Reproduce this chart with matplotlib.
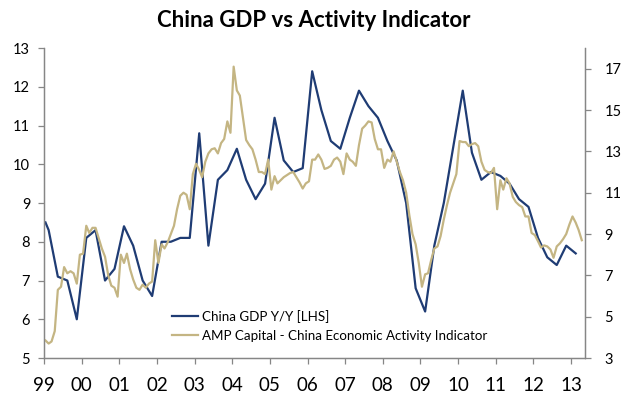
import numpy as np
import pandas as pd
import matplotlib
matplotlib.use("Agg")
import matplotlib.pyplot as plt
import matplotlib.dates as mdates

# China GDP y/y (left axis), quarterly readings
gdp_dates = ["1999-01-15"] + [f"{y}-{m:02d}-15" for y in range(1999, 2013) for m in (2, 5, 8, 11)] + ["2013-02-15"]
gdp_values = [8.5,
              8.3, 7.1, 7.0, 6.0,
              8.1, 8.3, 7.0, 7.3,
              8.4, 7.9, 7.0, 6.6,
              8.0, 8.0, 8.1, 8.1,
              10.8, 7.9, 9.6, 9.85,
              10.4, 9.6, 9.1, 9.5,
              11.2, 10.1, 9.8, 9.9,
              12.4, 11.4, 10.6, 10.4,
              11.2, 11.9, 11.5, 11.2,
              10.6, 10.1, 9.0, 6.8,
              6.2, 7.9, 9.0, 10.45,
              11.9, 10.3, 9.6, 9.8,
              9.7, 9.5, 9.1, 8.9,
              8.1, 7.6, 7.4, 7.9,
              7.7]

# AMP Capital activity indicator (right axis), monthly from Jan 1999
amp_values = [
    3.85, 3.7, 3.8, 4.3, 6.3, 6.45, 7.4, 7.1, 7.2, 7.1, 6.6, 8.0,        # 1999
    8.05, 9.4, 9.05, 9.3, 9.3, 8.8, 8.3, 7.9, 7.0, 6.5, 6.4, 5.97,       # 2000
    8.0, 7.6, 8.05, 7.3, 6.8, 6.4, 6.3, 6.55, 6.4, 6.6, 6.7, 8.7,        # 2001
    7.6, 8.5, 8.3, 8.6, 9.0, 9.4, 10.2, 10.85, 11.0, 10.9, 10.2, 11.9,   # 2002
    12.4, 12.1, 11.75, 12.5, 12.9, 13.1, 13.15, 12.9, 13.4, 13.6, 14.45, 13.9,  # 2003
    17.1, 15.95, 15.7, 14.6, 13.55, 13.3, 13.1, 12.6, 12.0, 12.0, 11.9, 12.6,  # 2004
    11.15, 11.8, 11.45, 11.6, 11.75, 11.85, 11.95, 12.0, 11.75, 11.5, 11.2, 11.45,  # 2005
    11.55, 12.6, 12.6, 12.85, 12.6, 12.15, 12.2, 12.3, 12.6, 12.7, 12.5, 11.9,  # 2006
    12.9, 12.6, 12.5, 12.3, 13.3, 14.1, 14.25, 14.45, 14.4, 13.6, 13.1, 13.1,  # 2007
    12.2, 12.6, 12.5, 13.0, 12.5, 12.0, 11.6, 11.0, 9.9, 9.0, 8.5, 7.6,  # 2008
    6.45, 7.05, 7.1, 7.75, 8.3, 8.4, 8.9, 9.7, 10.4, 11.0, 11.45, 11.9,  # 2009
    13.5, 13.45, 13.45, 13.25, 13.35, 13.4, 13.25, 12.5, 12.1, 12.0, 11.95, 12.2,  # 2010
    10.2, 11.6, 11.15, 11.7, 11.45, 10.8, 10.55, 10.4, 10.3, 9.85, 9.85, 9.05,  # 2011
    8.95, 8.65, 8.35, 8.45, 8.4, 8.25, 7.85, 8.4, 8.55, 8.75, 9.0, 9.45,  # 2012
    9.85, 9.55, 9.2, 8.7,  # 2013
]

year_labels = ["99", "00", "01", "02", "03", "04", "05", "06", "07", "08", "09", "10", "11", "12", "13"]

plt.rcParams["font.family"] = ["Lato", "DejaVu Sans"]

gdp_x = pd.to_datetime(gdp_dates)
amp_x = pd.date_range("1999-01-01", periods=len(amp_values), freq="MS") + pd.Timedelta(days=14)

fig = plt.figure(figsize=(6.28, 3.97), dpi=100)
ax = fig.add_axes([0.0701, 0.0982, 0.8614, 0.7808])
ax2 = ax.twinx()

blue = "#1F3C74"
tan = "#C4B583"
grey = "#868686"

l1, = ax.plot(gdp_x, gdp_values, color=blue, lw=1.6, label="China GDP Y/Y [LHS]")
l2, = ax2.plot(amp_x, amp_values, color=tan, lw=1.6, label="AMP Capital - China Economic Activity Indicator")

ax.set_ylim(5, 13)
ax.set_yticks(range(5, 14))
ax2.set_ylim(3, 18)
ax2.set_yticks(range(3, 18, 2))

ax.set_xlim(pd.Timestamp("1999-01-01"), pd.Timestamp("2013-05-16"))
ticks = [pd.Timestamp(f"{1999 + i}-01-01") for i in range(len(year_labels))]
ax.set_xticks(ticks)
ax.set_xticklabels(year_labels, fontsize=13.5)

for a in (ax, ax2):
    a.spines["top"].set_visible(False)
    for s in ("left", "right", "bottom"):
        a.spines[s].set_color(grey)
        a.spines[s].set_linewidth(0.9)
    a.tick_params(colors=grey, labelcolor="black", length=4, width=0.9, direction="out")

ax.tick_params(axis="y", labelsize=10.5, pad=6)
ax2.tick_params(axis="y", labelsize=10.5, pad=10)
ax.tick_params(axis="x", pad=10)

fig.suptitle("China GDP vs Activity Indicator", fontsize=16, fontweight="bold", y=0.975)

leg = ax2.legend(handles=[l1, l2], loc="upper left", bbox_to_anchor=(0.236, 0.155),
                 frameon=False, fontsize=9.6, handlelength=2.0, handletextpad=0.3,
                 labelspacing=0.5, borderpad=0, borderaxespad=0)

fig.savefig("out.png", dpi=100)
